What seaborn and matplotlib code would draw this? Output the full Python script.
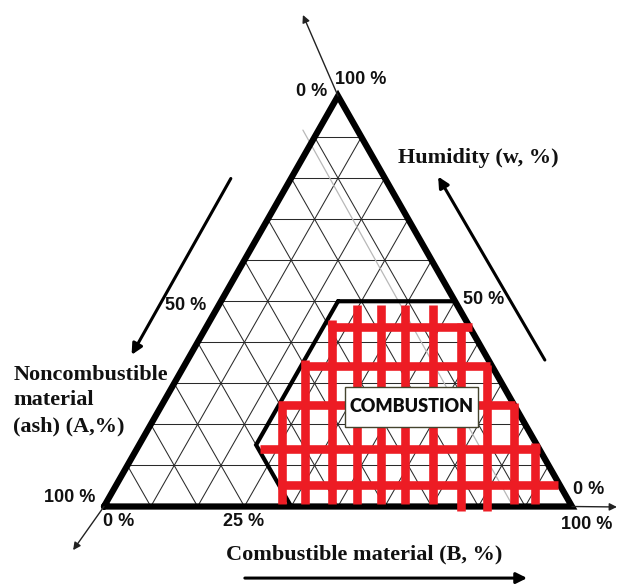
import numpy as np
import pandas as pd
import matplotlib
matplotlib.use("Agg")
import matplotlib.pyplot as plt
from matplotlib.patches import Rectangle
import seaborn as sns

# ---- data -------------------------------------------------------------
# ternary grid levels (percent)
grid_levels = [10, 20, 30, 40, 50, 60, 70, 80, 90]

# combustion zone limits (Tanner triangle)
zone_w_max = 50   # humidity w, %
zone_a_max = 60   # ash A, %
zone_b_min = 25   # combustible B, %

# red hatching of the combustion zone: rows (humidity %, base-position %)
hatch_row_w = [43.7, 34.2, 24.7, 14.0, 5.2]
hatch_row_x0 = [47.9, 42.3, 37.2, 33.3, 37.2]
hatch_row_x1 = [78.6, 82.5, 87.8, 93.2, 97.0]
# columns (base-position %, humidity % top / bottom)
hatch_col_x = [38.0, 43.0, 48.7, 54.1, 59.2, 64.3, 70.2, 76.2, 81.9, 87.5, 92.1]
hatch_col_top_w = [23.9, 35.7, 45.4, 49.0, 49.0, 49.0, 49.0, 44.6, 34.5, 25.1, 15.4]
hatch_col_bot_w = [0.5, 0.5, 0.5, 0.5, 0.5, 0.5, 0.5, -1.2, -1.2, 0.5, 0.5]

# faint construction line (base-position %, humidity %)
guide_x = [42.5, 87.4]
guide_w = [91.7, 0.0]

corner_labels = ["0 %", "100 %", "50 %", "50 %", "100 %", "0 %", "25 %", "0 %", "100 %"]

H = np.sqrt(3) / 2


def tern(a, b, w):
    """ternary (A, B, w) in percent -> cartesian (x, y)"""
    s = a + b + w
    b, w = 100 * b / s, 100 * w / s
    return b + w / 2, w * H


# ---- figure -----------------------------------------------------------
sns.set_theme(style="white")
plt.rcParams["font.family"] = ["Liberation Sans", "DejaVu Sans"]

fig = plt.figure(figsize=(6.19, 5.84), dpi=100)
ax = fig.add_axes([0, 0, 1, 1])
ax.set_xlim(-104 / 4.68, 515 / 4.68)
ax.set_ylim(-77.5 / 4.74, 506.5 / 4.74)
ax.axis("off")

# grid segments
rows = []
seg = 0
for g in grid_levels:
    for p0, p1 in [((100 - g, 0, g), (0, 100 - g, g)),      # constant w
                   ((g, 100 - g, 0), (g, 0, 100 - g)),      # constant A
                   ((100 - g, g, 0), (0, g, 100 - g))]:     # constant B
        for p in (p0, p1):
            x, y = tern(*p)
            rows.append({"seg": seg, "x": x, "y": y})
        seg += 1
grid_df = pd.DataFrame(rows)
sns.lineplot(data=grid_df, x="x", y="y", units="seg", estimator=None, sort=False,
             color="#2a2a2a", linewidth=0.75, ax=ax, legend=False)

# faint guide line
ax.plot(guide_x, [w * H for w in guide_w], color="#b8b8b8", lw=0.9, zorder=2)

# triangle outline
tri = [tern(100, 0, 0), tern(0, 100, 0), tern(0, 0, 100), tern(100, 0, 0)]
ax.plot([p[0] for p in tri], [p[1] for p in tri], color="black", lw=4.5,
        solid_joinstyle="miter", zorder=3)

# combustion zone outline
zone = [tern(100 - zone_w_max - zone_b_min, zone_b_min, zone_w_max),
        tern(0, 100 - zone_w_max, zone_w_max),
        tern(0, 100, 0),
        tern(zone_a_max, 100 - zone_a_max, 0),
        tern(zone_a_max, zone_b_min, 100 - zone_a_max - zone_b_min),
        tern(100 - zone_w_max - zone_b_min, zone_b_min, zone_w_max)]
ax.plot([p[0] for p in zone], [p[1] for p in zone], color="black", lw=3.0,
        solid_joinstyle="miter", zorder=3)

# red hatching
red_rows = []
k = 0
for w, x0, x1 in zip(hatch_row_w, hatch_row_x0, hatch_row_x1):
    red_rows += [{"seg": k, "x": x0, "y": w * H}, {"seg": k, "x": x1, "y": w * H}]
    k += 1
for x, wt, wb in zip(hatch_col_x, hatch_col_top_w, hatch_col_bot_w):
    red_rows += [{"seg": k, "x": x, "y": wb * H}, {"seg": k, "x": x, "y": wt * H}]
    k += 1
red_df = pd.DataFrame(red_rows)
sns.lineplot(data=red_df, x="x", y="y", units="seg", estimator=None, sort=False,
             color="#ED1C24", linewidth=6.2, ax=ax, legend=False,
             solid_capstyle="butt", zorder=4)

# label box
ax.add_patch(Rectangle((51.5, 16.8), 28.4, 8.4, facecolor="white",
                       edgecolor="#44442e", lw=1.0, zorder=5))
ax.text(65.7, 21.0, "COMBUSTION", ha="center", va="center", fontsize=13,
        fontweight="heavy", family=["Lato", "DejaVu Sans"], color="#0d0d0d", zorder=6)

# corner / tick labels
num = dict(fontsize=13, fontweight="bold", family=["Liberation Sans", "DejaVu Sans"],
           color="#111111")
ax.text(47.6, 87.6, corner_labels[0], ha="right", va="center", **num)
ax.text(49.4, 90.0, corner_labels[1], ha="left", va="center", **num)
ax.text(21.8, 42.5, corner_labels[2], ha="right", va="center", **num)
ax.text(76.7, 43.7, corner_labels[3], ha="left", va="center", **num)
ax.text(-1.9, 1.9, corner_labels[4], ha="right", va="center", **num)
ax.text(-0.2, -3.2, corner_labels[5], ha="left", va="center", **num)
ax.text(25.4, -3.2, corner_labels[6], ha="left", va="center", **num)
ax.text(100.2, 3.5, corner_labels[7], ha="left", va="center", **num)
ax.text(108.7, -3.8, corner_labels[8], ha="right", va="center", **num)

# axis titles
ser = dict(fontsize=16, fontweight="bold", family=["Liberation Serif", "DejaVu Serif"],
           color="#111111")
ax.text(62.8, 73.5, "Humidity (w, %)", ha="left", va="center", **ser)
ax.text(-19.4, 22.4, "Noncombustible\nmaterial\n(ash) (A,%)", ha="left", va="center",
        linespacing=1.38, **ser)
ax.text(26.1, -10.2, "Combustible material (B, %)", ha="left", va="center", **ser)

# direction arrows
thick = dict(arrowstyle="-|>", color="black", lw=2.2, mutation_scale=16,
             shrinkA=0, shrinkB=0)
thin = dict(arrowstyle="-|>", color="#222222", lw=1.0, mutation_scale=11,
            shrinkA=0, shrinkB=0)
ax.annotate("", xy=(5.9, 32.0), xytext=(27.1, 69.2), arrowprops=thick)
ax.annotate("", xy=(71.4, 69.6), xytext=(94.2, 30.9), arrowprops=thick)
ax.annotate("", xy=(90.4, -15.1), xytext=(30.1, -15.1), arrowprops=thick)
ax.annotate("", xy=(42.5, 103.7), xytext=tern(0, 0, 100), arrowprops=thin)
ax.annotate("", xy=(-6.6, -9.2), xytext=tern(100, 0, 0), arrowprops=thin)
ax.annotate("", xy=(109.6, -0.1), xytext=tern(0, 100, 0), arrowprops=thin)

fig.savefig("out.png", dpi=100, facecolor="white")
